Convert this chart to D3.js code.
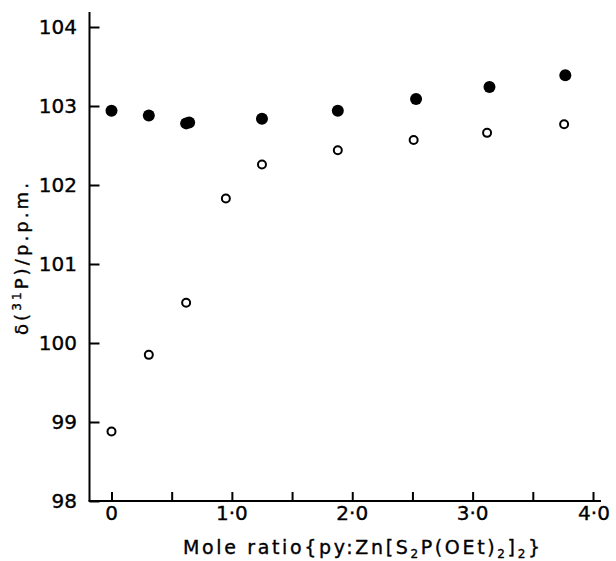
<!DOCTYPE html>
<html><head><meta charset="utf-8">
<script src="https://cdn.jsdelivr.net/npm/d3@7"></script>
<style>
html,body{margin:0;padding:0;background:#fff;}
svg{display:block;}
text{font-family:"DejaVu Sans",sans-serif;fill:#000;stroke:#000;stroke-width:0.35px;}
</style></head>
<body>
<svg id="chart" width="616" height="561"></svg>
<script>
// Data
const ratioFilled = [0, 0.31, 0.62, 0.645, 1.25, 1.88, 2.53, 3.14, 3.77];
const shiftFilled = [102.94, 102.88, 102.78, 102.79, 102.84, 102.94, 103.09, 103.24, 103.39];
const ratioOpen = [0, 0.31, 0.62, 0.95, 1.25, 1.88, 2.51, 3.12, 3.76];
const shiftOpen = [98.88, 99.85, 100.51, 101.83, 102.26, 102.44, 102.57, 102.66, 102.77];
const xTicks = [0, 0.5, 1, 1.5, 2, 2.5, 3, 3.5, 4];
const xTickLabels = [0, 1, 2, 3, 4];
const yTicks = [98, 99, 100, 101, 102, 103, 104];

const svg = d3.select("#chart");
const x = d3.scaleLinear().domain([0, 4]).range([111.5, 593]);
const y = d3.scaleLinear().domain([98, 104]).range([501, 27]);

const axisX0 = 89.5, axisY0 = 501;

// axis lines
svg.append("line").attr("x1", axisX0).attr("x2", axisX0).attr("y1", 12).attr("y2", axisY0)
  .attr("stroke", "#000").attr("stroke-width", 2);
svg.append("line").attr("x1", axisX0 - 1).attr("x2", 601).attr("y1", axisY0).attr("y2", axisY0)
  .attr("stroke", "#000").attr("stroke-width", 2);

// y axis via d3 axis (ticks inward)
const yAxis = d3.axisRight(y).tickValues(yTicks).tickSize(10).tickFormat("");
const gy = svg.append("g").attr("transform", `translate(${axisX0},0)`).call(yAxis);
gy.select(".domain").remove();
gy.selectAll(".tick line").attr("stroke", "#000").attr("stroke-width", 2);
svg.append("g").selectAll("text").data(yTicks).join("text")
  .attr("x", 77).attr("y", d => y(d)).attr("dy", "0.36em")
  .attr("text-anchor", "end").attr("font-size", 20).text(d => d);

// x axis (ticks upward)
const xAxis = d3.axisTop(x).tickValues(xTicks).tickSize(9).tickFormat("");
const gx = svg.append("g").attr("transform", `translate(0,${axisY0})`).call(xAxis);
gx.select(".domain").remove();
gx.selectAll(".tick line").attr("stroke", "#000").attr("stroke-width", 2);
const fmt = d => d === 0 ? "0" : d3.format(".1f")(d).replace(".", "·");
svg.append("g").selectAll("text").data(xTickLabels).join("text")
  .attr("x", d => x(d) + (d === 4 ? 1 : 0)).attr("y", 520)
  .attr("text-anchor", "middle").attr("font-size", 20).text(fmt);

// x label
const xl = svg.append("text").attr("x", 183).attr("y", 554).attr("font-size", 19)
  .attr("textLength", 357).attr("lengthAdjust", "spacing");
xl.append("tspan").text("Mole ratio{py:Zn[S");
xl.append("tspan").attr("dy", 4).attr("font-size", 12).text("2");
xl.append("tspan").attr("dy", -4).text("P(OEt)");
xl.append("tspan").attr("dy", 4).attr("font-size", 12).text("2");
xl.append("tspan").attr("dy", -4).text("]");
xl.append("tspan").attr("dy", 4).attr("font-size", 12).text("2");
xl.append("tspan").attr("dy", -4).text("}");

// y label
const yl = svg.append("text").attr("transform", "translate(28,335) rotate(-90)")
  .attr("font-size", 18).attr("textLength", 152).attr("lengthAdjust", "spacing");
yl.append("tspan").text("δ(");
yl.append("tspan").attr("dy", -7).attr("font-size", 12).text("31");
yl.append("tspan").attr("dy", 7).text("P)/p.p.m.");

// points
const filled = ratioFilled.map((r, i) => ({r, s: shiftFilled[i]}));
const open = ratioOpen.map((r, i) => ({r, s: shiftOpen[i]}));
svg.append("g").selectAll("circle").data(filled).join("circle")
  .attr("cx", d => x(d.r)).attr("cy", d => y(d.s)).attr("r", 6).attr("fill", "#000");
svg.append("g").selectAll("circle").data(open).join("circle")
  .attr("cx", d => x(d.r)).attr("cy", d => y(d.s)).attr("r", 4)
  .attr("fill", "#fff").attr("stroke", "#000").attr("stroke-width", 2);
</script>
</body></html>
